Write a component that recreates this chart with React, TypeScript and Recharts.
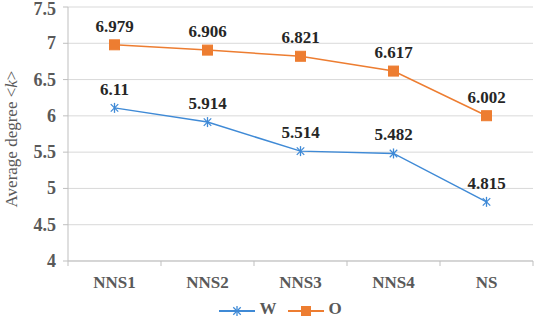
import React from "react";
import { LineChart, Line, XAxis, YAxis, CartesianGrid, Legend, LabelList, Label } from "recharts";

const categories = ["NNS1", "NNS2", "NNS3", "NNS4", "NS"];
const seriesW = [6.11, 5.914, 5.514, 5.482, 4.815];
const seriesO = [6.979, 6.906, 6.821, 6.617, 6.002];
const yTicks = [4, 4.5, 5, 5.5, 6, 6.5, 7, 7.5];

const data = categories.map((c, i) => ({ name: c, W: seriesW[i], O: seriesO[i] }));

const BLUE = "#3F8AD6";
const ORANGE = "#ED7D31";
const FONT = '"Liberation Serif"';

const StarDot = (props: any) => {
  const { cx, cy } = props;
  if (cx == null || cy == null) return null;
  const r = 5;
  const d = r * 0.75;
  return (
    <g stroke={BLUE} strokeWidth={1.3}>
      <line x1={cx} y1={cy - r} x2={cx} y2={cy + r} />
      <line x1={cx - d} y1={cy - d} x2={cx + d} y2={cy + d} />
      <line x1={cx - d} y1={cy + d} x2={cx + d} y2={cy - d} />
    </g>
  );
};

const SquareDot = (props: any) => {
  const { cx, cy } = props;
  if (cx == null || cy == null) return null;
  const s = 10;
  return <rect x={cx - s / 2} y={cy - s / 2} width={s} height={s} fill={ORANGE} stroke={ORANGE} />;
};

const XTick = (props: any) => {
  const { x, y, payload, width, visibleTicksCount, index } = props;
  const bw = width / visibleTicksCount;
  const axisY = y - 8;
  return (
    <g>
      <line x1={x - bw / 2} y1={axisY} x2={x - bw / 2} y2={axisY + 5} stroke="#BFBFBF" />
      {index === visibleTicksCount - 1 && (
        <line x1={x + bw / 2} y1={axisY} x2={x + bw / 2} y2={axisY + 5} stroke="#BFBFBF" />
      )}
      <text x={x} y={y + 19} textAnchor="middle" fill="#595959" fontFamily={FONT} fontWeight="bold" fontSize={17}>
        {payload.value}
      </text>
    </g>
  );
};

const YTick = (props: any) => {
  const { x, y, payload } = props;
  return (
    <text x={x} y={y} dy={6} textAnchor="end" fill="#595959" fontFamily={FONT} fontWeight="bold" fontSize={18}>
      {payload.value}
    </text>
  );
};

const DataLabel = (props: any) => {
  const { x, y, width, value } = props;
  return (
    <text x={x + (width || 0) / 2} y={y - 13} textAnchor="middle" fill="#262626" fontFamily={FONT} fontWeight="bold" fontSize={17}>
      {value}
    </text>
  );
};

const YLabel = (props: any) => {
  const { viewBox } = props;
  const cx = viewBox.x + 11;
  const cy = viewBox.y + viewBox.height / 2 + 5;
  return (
    <text
      x={cx}
      y={cy}
      transform={`rotate(-90 ${cx} ${cy})`}
      textAnchor="middle"
      dominantBaseline="central"
      fill="#595959"
      fontFamily={FONT}
      fontSize={17}
    >
      Average degree &lt;<tspan fontStyle="italic">k</tspan>&gt;
    </text>
  );
};

const LegendContent = (props: any) => {
  const items = [
    { name: "W", color: BLUE, kind: "star" },
    { name: "O", color: ORANGE, kind: "square" },
  ];
  return (
    <div style={{ display: "flex", justifyContent: "center", alignItems: "center", height: 24, marginTop: 6, paddingLeft: 28, fontFamily: FONT, fontWeight: "bold", fontSize: 17, color: "#595959" }}>
      {items.map((it, i) => (
        <div key={it.name} style={{ display: "flex", alignItems: "center", marginLeft: i === 0 ? 0 : 12 }}>
          <svg width={36} height={14} style={{ marginTop: 3 }}>
            <line x1={0} y1={7} x2={36} y2={7} stroke={it.color} strokeWidth={2} />
            {it.kind === "star" ? (
              <g stroke={it.color} strokeWidth={1.3}>
                <line x1={18} y1={2} x2={18} y2={12} />
                <line x1={14.25} y1={3.25} x2={21.75} y2={10.75} />
                <line x1={14.25} y1={10.75} x2={21.75} y2={3.25} />
              </g>
            ) : (
              <rect x={13} y={2} width={10} height={10} fill={it.color} />
            )}
          </svg>
          <span style={{ marginLeft: 4 }}>{it.name}</span>
        </div>
      ))}
    </div>
  );
};

export default function App() {
  return (
    <div style={{ position: "absolute", left: 0, top: 0, background: "#fff", fontFamily: FONT }}>
      <LineChart width={536} height={318} data={data} margin={{ top: 7, right: 3, left: 0, bottom: 1 }}>
        <CartesianGrid vertical={false} stroke="#D9D9D9" />
        <XAxis
          dataKey="name"
          scale="band"
          height={30}
          tickLine={false}
          stroke="#BFBFBF"
          tick={<XTick />}
          interval={0}
        />
        <YAxis
          width={68}
          domain={[4, 7.5]}
          ticks={yTicks}
          stroke="#BFBFBF"
          tickSize={5}
          tickMargin={7}
          tick={<YTick />}
        >
          <Label content={<YLabel />} />
        </YAxis>
        <Legend verticalAlign="bottom" height={26} content={<LegendContent />} />
        <Line
          type="linear"
          dataKey="W"
          stroke={BLUE}
          strokeWidth={1.5}
          dot={<StarDot />}
          isAnimationActive={false}
        >
          <LabelList dataKey="W" content={<DataLabel />} />
        </Line>
        <Line
          type="linear"
          dataKey="O"
          stroke={ORANGE}
          strokeWidth={1.5}
          dot={<SquareDot />}
          isAnimationActive={false}
        >
          <LabelList dataKey="O" content={<DataLabel />} />
        </Line>
      </LineChart>
    </div>
  );
}
